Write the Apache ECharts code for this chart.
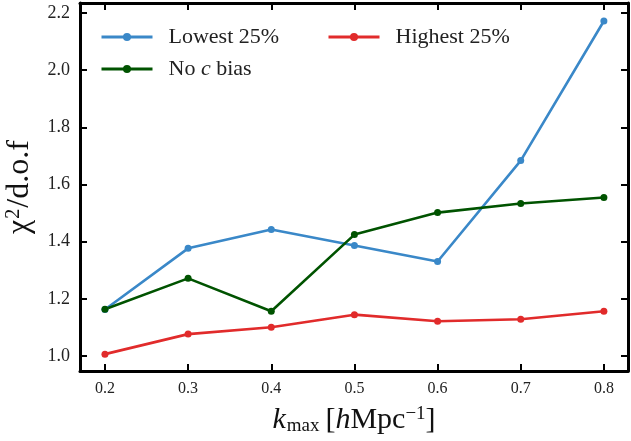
<!DOCTYPE html>
<html lang="en">
<head>
    <meta charset="UTF-8">
    <title>chi2 vs kmax</title>
    <script type="text/javascript" src="https://cdn.jsdelivr.net/npm/echarts@6/dist/echarts.min.js"></script>
</head>
<body style="margin:0">
<div id="chartmain" style="width:631px;height:441px"></div>
<script>
    var kmax = [0.2, 0.3, 0.4, 0.5, 0.6, 0.7, 0.8];
    var lowest = [1.163, 1.377, 1.443, 1.387, 1.331, 1.684, 2.172];
    var highest = [1.007, 1.077, 1.101, 1.145, 1.122, 1.129, 1.157];
    var noBias = [1.164, 1.272, 1.157, 1.425, 1.502, 1.534, 1.555];
    var xTicks = [0.2, 0.3, 0.4, 0.5, 0.6, 0.7, 0.8];
    var yTicks = [1.0, 1.2, 1.4, 1.6, 1.8, 2.0, 2.2];

    function pairs(ys) {
        var out = [];
        for (var i = 0; i < kmax.length; i++) out.push([kmax[i], ys[i]]);
        return out;
    }

    var font = 'Liberation Serif';
    var xMin = 0.17, xMax = 0.829, yMin = 0.948, yMax = 2.235;

    function frameX(pos, labels) {
        return {
            type: 'value', position: pos, min: xMin, max: xMax,
            axisLine: {show: true, onZero: false, lineStyle: {color: '#000', width: 3}},
            axisTick: {show: true, inside: true, length: 7, lineStyle: {color: '#000', width: 2}, customValues: xTicks},
            axisLabel: {show: labels, customValues: xTicks, margin: 10, fontFamily: font, fontSize: 16, color: '#222',
                formatter: function (v) { return v.toFixed(1); }},
            splitLine: {show: false}
        };
    }
    function frameY(pos, labels) {
        return {
            type: 'value', position: pos, min: yMin, max: yMax,
            axisLine: {show: true, onZero: false, lineStyle: {color: '#000', width: 3}},
            axisTick: {show: true, inside: true, length: 7, lineStyle: {color: '#000', width: 2}, customValues: yTicks},
            axisLabel: {show: labels, customValues: yTicks, margin: 10, fontFamily: font, fontSize: 18, color: '#222',
                formatter: function (v) { return v.toFixed(1); }},
            splitLine: {show: false}
        };
    }

    var xa = frameX('bottom', true);
    xa.name = '{i|k}{sub|max}{br|[}{i|h}Mpc{sup|\u22121}]';
    xa.nameLocation = 'middle';
    xa.nameGap = 34;
    xa.nameTextStyle = {fontFamily: font, fontSize: 30, color: '#111',
        rich: {
            i: {fontFamily: font, fontStyle: 'italic', fontSize: 30},
            br: {fontFamily: font, fontSize: 30, padding: [0, 0, 0, 6]},
            sub: {fontFamily: font, fontSize: 19, verticalAlign: 'bottom', padding: [12, 0, 0, 1]},
            sup: {fontFamily: font, fontSize: 19, verticalAlign: 'top', padding: [0, 0, 12, 0]}
        }};
    var ya = frameY('left', true);
    ya.name = '\u03c7{sup|2}/d.o.f';
    ya.nameLocation = 'middle';
    ya.nameGap = 44;
    ya.nameTextStyle = {fontFamily: font, fontSize: 32, color: '#111',
        rich: {sup: {fontFamily: font, fontSize: 20, verticalAlign: 'top', padding: [0, 1, 12, 1]}}};

    function line(name, data, color) {
        return {
            name: name, type: 'line', xAxisIndex: 0, yAxisIndex: 0,
            data: pairs(data), symbol: 'circle', symbolSize: 7,
            lineStyle: {color: color, width: 2.6}, itemStyle: {color: color}
        };
    }

    var legendText = {fontFamily: font, fontSize: 22, color: '#222', padding: [0, 0, 0, 11],
        rich: {i: {fontFamily: font, fontStyle: 'italic', fontSize: 22}}};

    var option = {
        animation: false,
        grid: {left: 80, right: 3, top: 3, bottom: 70, outerBoundsMode: 'none', containLabel: false},
        legend: [
            {data: ['Lowest 25%', 'No c bias'], orient: 'vertical', left: 95, top: 21,
                itemWidth: 51, itemHeight: 10, itemGap: 10, textStyle: legendText,
                lineStyle: {width: 3},
                formatter: function (n) { return n === 'No c bias' ? 'No {i|c} bias' : n; }},
            {data: ['Highest 25%'], orient: 'vertical', left: 322, top: 21,
                itemWidth: 51, itemHeight: 10, textStyle: legendText, lineStyle: {width: 3}}
        ],
        xAxis: [xa, frameX('top', false)],
        yAxis: [ya, frameY('right', false)],
        series: [
            line('Lowest 25%', lowest, '#3a88c8'),
            line('Highest 25%', highest, '#e12b2b'),
            line('No c bias', noBias, '#005300')
        ]
    };

    var myChart = echarts.init(document.getElementById('chartmain'));
    myChart.setOption(option);
</script>
</body>
</html>
